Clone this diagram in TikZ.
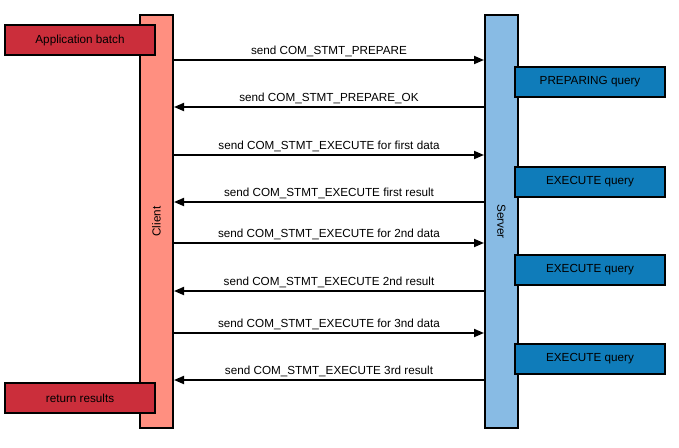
\documentclass[tikz,border=0pt]{standalone}
\usepackage{fontspec}
\setmainfont{Liberation Sans}
\usetikzlibrary{arrows.meta}
\definecolor{clientred}{HTML}{FF8F80}
\definecolor{batchred}{HTML}{CB2E3B}
\definecolor{serverblue}{HTML}{88BBE4}
\definecolor{queryblue}{HTML}{0F7CBA}
\tikzstyle{lifeline} = [rectangle, draw, line width=2pt, minimum width=33pt, minimum height=413pt, inner sep=0pt, font=\fontsize{11.7}{14}\selectfont]
\tikzstyle{clientstep} = [rectangle, draw, line width=2pt, minimum width=150pt, minimum height=30pt, text centered, fill=batchred, font=\fontsize{11.7}{14}\selectfont]
\tikzstyle{serverstep} = [rectangle, draw, line width=2pt, minimum width=150pt, minimum height=30pt, text centered, fill=queryblue, font=\fontsize{11.7}{14}\selectfont]
\tikzstyle{arrow} = [line width=1.8pt, -{Triangle[length=10pt,width=8pt]}]
\tikzstyle{msg} = [midway, above=-1pt, font=\fontsize{11.7}{14}\selectfont]

\begin{document}
\begin{tikzpicture}[x=1pt, y=-1pt]
    \useasboundingbox (0,0) rectangle (679,447);
    \node [lifeline, fill=clientred] at (156.5,221.5) (client) {};
    \node [rotate=90, font=\fontsize{11.7}{14}\selectfont] at (client.center) (clientname) {Client};
    \node [lifeline, fill=serverblue] at (501.5,221.5) (server) {};
    \node [rotate=-90, font=\fontsize{11.7}{14}\selectfont] at (server.center) (servername) {Server};
    \node [clientstep] at (80,40) (batch) {Application batch};
    \node [clientstep] at (80,398) (results) {return results};
    \node [serverstep] at (590,82) (prepare) {PREPARING query};
    \node [serverstep] at (590,181.5) (exec1) {EXECUTE query};
    \node [serverstep] at (590,270) (exec2) {EXECUTE query};
    \node [serverstep] at (590,359) (exec3) {EXECUTE query};
    \draw [arrow] (client.east |- 0,60) -- node [msg] {send COM\_STMT\_PREPARE} (server.west |- 0,60);
    \draw [arrow] (server.west |- 0,107) -- node [msg] {send COM\_STMT\_PREPARE\_OK} (client.east |- 0,107);
    \draw [arrow] (client.east |- 0,155) -- node [msg] {send COM\_STMT\_EXECUTE for first data} (server.west |- 0,155);
    \draw [arrow] (server.west |- 0,202) -- node [msg] {send COM\_STMT\_EXECUTE first result} (client.east |- 0,202);
    \draw [arrow] (client.east |- 0,243) -- node [msg] {send COM\_STMT\_EXECUTE for 2nd data} (server.west |- 0,243);
    \draw [arrow] (server.west |- 0,291) -- node [msg] {send COM\_STMT\_EXECUTE 2nd result} (client.east |- 0,291);
    \draw [arrow] (client.east |- 0,333) -- node [msg] {send COM\_STMT\_EXECUTE for 3nd data} (server.west |- 0,333);
    \draw [arrow] (server.west |- 0,380) -- node [msg] {send COM\_STMT\_EXECUTE 3rd result} (client.east |- 0,380);
\end{tikzpicture}
\end{document}
